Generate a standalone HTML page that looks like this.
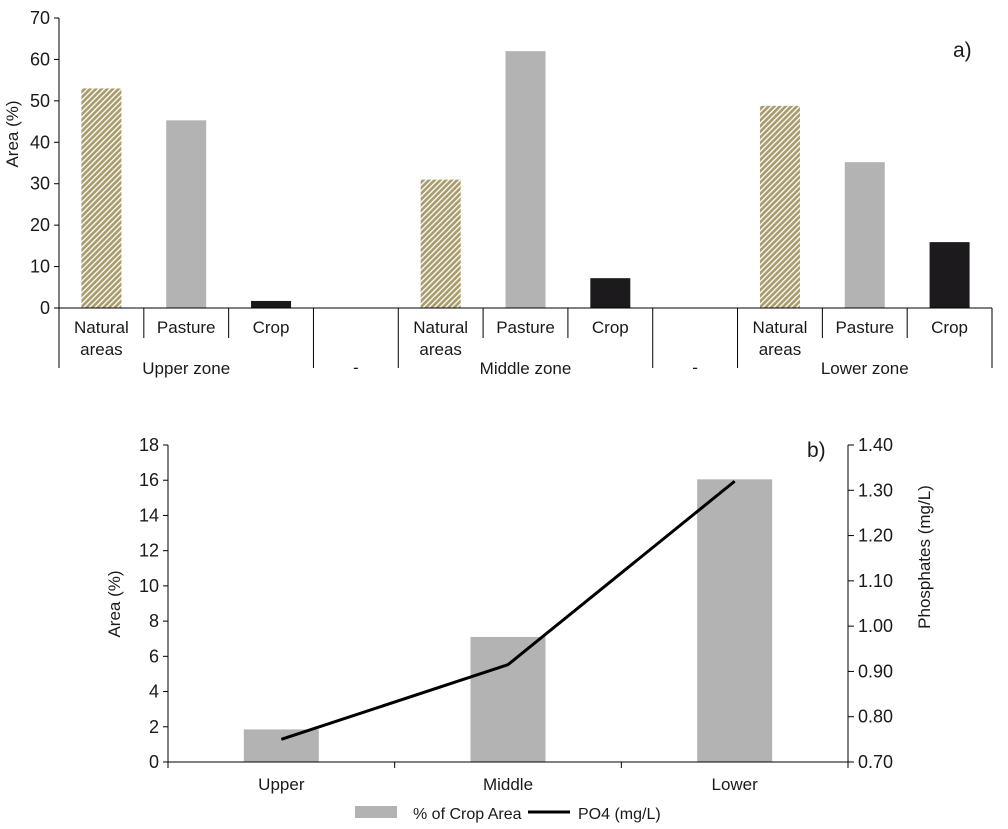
<!DOCTYPE html>
<html><head><meta charset="utf-8"><style>
body{margin:0;background:#fff}
svg{display:block;font-family:"Liberation Sans",Arial,sans-serif;fill:#1a1a1a}
</style></head><body>
<svg id="c" width="1008" height="829" viewBox="0 0 1008 829">
<defs>
<pattern id="hatch" patternUnits="userSpaceOnUse" width="4" height="4" patternTransform="rotate(-45)">
<rect width="4" height="4" fill="#a89c6c"/><rect width="4" height="1.3" fill="#fff"/>
</pattern>
</defs>
</svg>
<script>
// Chart a data
const catsA = ["Natural areas","Pasture","Crop","-","Natural areas","Pasture","Crop","-","Natural areas","Pasture","Crop"];
const valsA = [53,45.3,1.7,null,31,62,7.2,null,48.8,35.2,15.9];
const kindA = ["nat","pas","crop",null,"nat","pas","crop",null,"nat","pas","crop"];
const zonesA = ["Upper zone","-","Middle zone","-","Lower zone"];
const ticksA = [0,10,20,30,40,50,60,70];
// Chart b data
const catsB = ["Upper","Middle","Lower"];
const cropB = [1.85,7.1,16.05];
const po4B = [0.75,0.915,1.32];
const ticksBL = [0,2,4,6,8,10,12,14,16,18];
const ticksBR = ["0.70","0.80","0.90","1.00","1.10","1.20","1.30","1.40"];

const svg=document.getElementById('c');const NS='http://www.w3.org/2000/svg';
function mk(t,a,txt){const e=document.createElementNS(NS,t);for(const k in a)e.setAttribute(k,a[k]);if(txt!=null)e.textContent=txt;svg.appendChild(e);return e;}

// ---- chart a
const ax0=59,ax1=992,ay0=308,ay1=18;
const yA=v=>ay0-(v/70)*(ay0-ay1);
const bw=(ax1-ax0)/catsA.length;
ticksA.forEach(t=>{
 let l=mk('line',{x1:ax0-5,x2:ax0,y1:yA(t),y2:yA(t),stroke:'#000'});
 
 let tx=mk('text',{x:ax0-9,y:yA(t)+6,'text-anchor':'end','font-size':18},t);
 
});
catsA.forEach((c,i)=>{
 const cx=ax0+bw*(i+0.5);
 if(valsA[i]!=null){
  const fill=kindA[i]=='nat'?'url(#hatch)':kindA[i]=='pas'?'#b3b3b3':'#1c1a1d';
  let r=mk('rect',{x:cx-20,y:yA(valsA[i]),width:40,height:ay0-yA(valsA[i]),fill});
  
 }
 if(c!="-"){
  const parts=c.split(' ');
  parts.forEach((p,j)=>{let t=mk('text',{x:cx,y:333+j*22,'text-anchor':'middle','font-size':17},p);
   });
 }
});
for(let i=0;i<=catsA.length;i++){
 const x=ax0+bw*i;const tall=(i==0||i==3||i==4||i==7||i==8||i==11);
 let l=mk('line',{x1:x,x2:x,y1:ay0,y2:tall?368:338,stroke:'#000'});
 
}
const zoneSpan=[[0,3],[3,4],[4,7],[7,8],[8,11]];
zonesA.forEach((z,i)=>{const cx=ax0+bw*(zoneSpan[i][0]+zoneSpan[i][1])/2;
 let t=mk('text',{x:cx,y:z=="-"?373:374,'text-anchor':'middle','font-size':17},z);
 });
let e;
e=mk('line',{x1:ax0,x2:ax0,y1:ay1,y2:ay0,stroke:'#000'});
e=mk('line',{x1:ax0,x2:ax1,y1:ay0,y2:ay0,stroke:'#000'});
e=mk('text',{x:0,y:0,transform:'translate(18,134) rotate(-90)','text-anchor':'middle','font-size':17},'Area (%)');
e=mk('text',{x:953,y:57,'font-size':21},'a)');

// ---- chart b
const bx0=168,bx1=848,by0=762,by1=445;
const yL=v=>by0-(v/18)*(by0-by1);
const yR=v=>by0-((v-0.7)/0.7)*(by0-by1);
const cw=(bx1-bx0)/catsB.length;
ticksBL.forEach(t=>{
 e=mk('line',{x1:bx0-5,x2:bx0,y1:yL(t),y2:yL(t),stroke:'#000'});
 e=mk('text',{x:bx0-9,y:yL(t)+6,'text-anchor':'end','font-size':18},t);
});
ticksBR.forEach(t=>{const v=parseFloat(t);
 e=mk('line',{x1:bx1,x2:bx1+6,y1:yR(v),y2:yR(v),stroke:'#000'});
 e=mk('text',{x:bx1+10,y:yR(v)+6,'font-size':18},t);
});
catsB.forEach((c,i)=>{const cx=bx0+cw*(i+0.5);
 e=mk('rect',{x:cx-37.5,y:yL(cropB[i]),width:75,height:by0-yL(cropB[i]),fill:'#b3b3b3'});
 e=mk('text',{x:cx,y:790,'text-anchor':'middle','font-size':17},c);
});
for(let i=0;i<=catsB.length;i++){const x=bx0+cw*i;
 e=mk('line',{x1:x,x2:x,y1:by0,y2:by0+6,stroke:'#000'});}
e=mk('polyline',{points:po4B.map((v,i)=>(bx0+cw*(i+0.5))+','+yR(v)).join(' '),fill:'none',stroke:'#000','stroke-width':3});

e=mk('line',{x1:bx0,x2:bx0,y1:by1,y2:by0,stroke:'#000'});
e=mk('line',{x1:bx1,x2:bx1,y1:by1,y2:by0+6,stroke:'#000'});
e=mk('line',{x1:bx0,x2:bx1,y1:by0,y2:by0,stroke:'#000'});
e=mk('text',{x:0,y:0,transform:'translate(120,604) rotate(-90)','text-anchor':'middle','font-size':17},'Area (%)');
e=mk('text',{x:0,y:0,transform:'translate(930,557) rotate(-90)','text-anchor':'middle','font-size':17},'Phosphates (mg/L)');
e=mk('text',{x:807,y:457,'font-size':21},'b)');
e=mk('rect',{x:355,y:806,width:42,height:12,fill:'#b3b3b3'});
e=mk('text',{x:413,y:819,'font-size':16},'% of Crop Area');
e=mk('line',{x1:528,x2:570,y1:812,y2:812,stroke:'#000','stroke-width':3});
e=mk('text',{x:578,y:819,'font-size':16},'PO4 (mg/L)');
</script>
</body></html>
